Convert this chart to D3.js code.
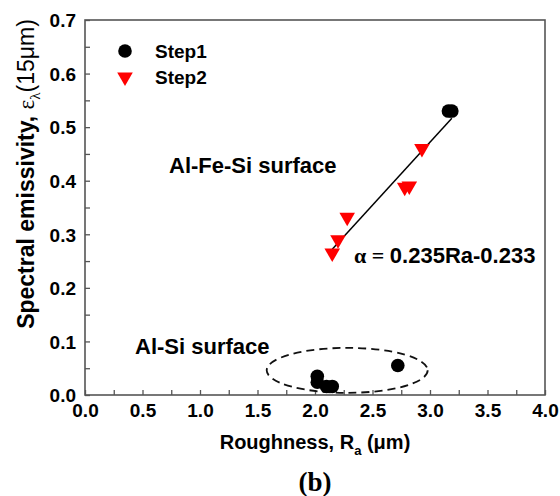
<!DOCTYPE html>
<html>
<head>
<meta charset="utf-8">
<script src="https://cdn.jsdelivr.net/npm/d3@7/dist/d3.min.js"></script>
<style>
  body { margin: 0; background: #fff; }
  text { font-family: "Liberation Sans", Arial, sans-serif; }
</style>
</head>
<body>
<div id="chart"></div>
<script>
// data
const step1X = [2.02, 2.02, 2.10, 2.15, 2.72, 3.16, 3.19];
const step1Y = [0.035, 0.024, 0.016, 0.016, 0.055, 0.530, 0.530];
const step2X = [2.15, 2.20, 2.28, 2.78, 2.82, 2.93];
const step2Y = [0.265, 0.290, 0.332, 0.388, 0.390, 0.460];
const fitSlope = 0.235, fitIntercept = -0.233, fitRange = [2.15, 3.19];
const xTicks = d3.range(0, 4.01, 0.25);
const yTicks = d3.range(0, 0.701, 0.05);
const seriesNames = ["Step1", "Step2"];

const width = 560, height = 496;
const margin = { top: 20, right: 15, bottom: 101, left: 85 };

const svg = d3.select("#chart").append("svg")
    .attr("width", width)
    .attr("height", height);

const x = d3.scaleLinear().domain([0, 4]).range([margin.left, width - margin.right]);
const y = d3.scaleLinear().domain([0, 0.7]).range([height - margin.bottom, margin.top]);

const isMajor = (v, step) => Math.abs(v / step - Math.round(v / step)) < 1e-6;
const axisColor = "#555";

// axes, ticks pointing inward
const xAxis = svg.append("g")
    .attr("transform", `translate(0,${y(0)})`)
    .call(d3.axisBottom(x).tickValues(xTicks).tickSize(-5).tickSizeOuter(0).tickPadding(7)
        .tickFormat(d => isMajor(d, 0.5) ? d3.format(".1f")(d) : ""));

const yAxis = svg.append("g")
    .attr("transform", `translate(${x(0)},0)`)
    .call(d3.axisLeft(y).tickValues(yTicks).tickSize(-5).tickSizeOuter(0).tickPadding(9)
        .tickFormat(d => isMajor(d, 0.1) ? d3.format(".1f")(d) : ""));

[xAxis, yAxis].forEach(g => {
    g.select(".domain").remove();
    g.selectAll(".tick line").attr("stroke", axisColor).attr("stroke-width", 1.3);
    g.selectAll(".tick text")
        .attr("fill", "#000")
        .style("font-size", "19px")
        .style("font-weight", "bold");
});
xAxis.selectAll(".tick text").attr("dy", "0.8em");
yAxis.selectAll(".tick text").attr("dy", "0.36em");

// frame
svg.append("rect")
    .attr("x", x(0)).attr("y", y(0.7))
    .attr("width", x(4) - x(0)).attr("height", y(0) - y(0.7))
    .attr("fill", "none")
    .attr("stroke", axisColor)
    .attr("stroke-width", 1.6);

// dashed ellipse round the Al-Si points
svg.append("ellipse")
    .attr("cx", x(2.28)).attr("cy", y(0.046))
    .attr("rx", x(2.28 + 0.70) - x(2.28))
    .attr("ry", y(0) - y(0.042))
    .attr("fill", "none")
    .attr("stroke", "#111")
    .attr("stroke-width", 1.8)
    .attr("stroke-dasharray", "8,5");

// fit line
svg.append("line")
    .attr("x1", x(fitRange[0])).attr("y1", y(fitSlope * fitRange[0] + fitIntercept))
    .attr("x2", x(fitRange[1])).attr("y2", y(fitSlope * fitRange[1] + fitIntercept))
    .attr("stroke", "#000")
    .attr("stroke-width", 1.5);

const tri = d3.symbol().type(d3.symbolTriangle).size(105);

// Step2 triangles
svg.append("g").selectAll("path")
    .data(step2X.map((v, i) => [v, step2Y[i]]))
    .join("path")
    .attr("d", tri)
    .attr("transform", d => `translate(${x(d[0])},${y(d[1])}) rotate(180)`)
    .attr("fill", "#ff0000");

// Step1 circles
svg.append("g").selectAll("circle")
    .data(step1X.map((v, i) => [v, step1Y[i]]))
    .join("circle")
    .attr("cx", d => x(d[0]))
    .attr("cy", d => y(d[1]))
    .attr("r", 6.8)
    .attr("fill", "#000");

// legend
const legend = svg.append("g").attr("transform", "translate(125,51)");
legend.append("circle").attr("r", 6.8).attr("fill", "#000");
legend.append("path").attr("d", tri).attr("transform", "translate(0,26) rotate(180)").attr("fill", "#ff0000");
legend.selectAll("text")
    .data(seriesNames)
    .join("text")
    .attr("x", 30)
    .attr("y", (d, i) => i * 26)
    .attr("dy", "0.36em")
    .style("font-size", "19px")
    .style("font-weight", "bold")
    .text(d => d);

// annotations
svg.append("text")
    .attr("x", 169).attr("y", 173)
    .style("font-size", "22px").style("font-weight", "bold")
    .text("Al-Fe-Si surface");

svg.append("text")
    .attr("x", 135).attr("y", 354)
    .style("font-size", "22px").style("font-weight", "bold")
    .text("Al-Si surface");

const eq = svg.append("text")
    .attr("x", 354).attr("y", 263)
    .style("font-size", "22px").style("font-weight", "bold");
eq.append("tspan").style("font-family", "'Liberation Serif', 'Times New Roman', serif").text("α = ");
eq.append("tspan").text("0.235Ra-0.233");

// axis titles
const xt = svg.append("text")
    .attr("x", x(2)).attr("y", 449)
    .attr("text-anchor", "middle")
    .style("font-size", "20px").style("font-weight", "bold");
xt.append("tspan").text("Roughness, R");
xt.append("tspan").attr("dy", 6).style("font-size", "13px").text("a");
xt.append("tspan").attr("dy", -6).text(" (μm)");

const yt = svg.append("text")
    .attr("transform", "translate(34,174) rotate(-90)")
    .attr("text-anchor", "middle")
    .style("font-size", "23px").style("font-weight", "bold");
yt.append("tspan").text("Spectral emissivity, ");
yt.append("tspan").style("font-weight", "normal").style("font-family", "'Liberation Serif', serif").text("ε");
yt.append("tspan").attr("dy", 6).style("font-weight", "normal").style("font-size", "15px").style("font-family", "'Liberation Serif', serif").text("λ");
yt.append("tspan").attr("dy", -6).style("font-weight", "normal").text("(15μm)");

svg.append("text")
    .attr("x", x(2)).attr("y", 491)
    .attr("text-anchor", "middle")
    .style("font-family", "'Liberation Serif', 'Times New Roman', serif")
    .style("font-size", "27px").style("font-weight", "bold")
    .text("(b)");
</script>
</body>
</html>
